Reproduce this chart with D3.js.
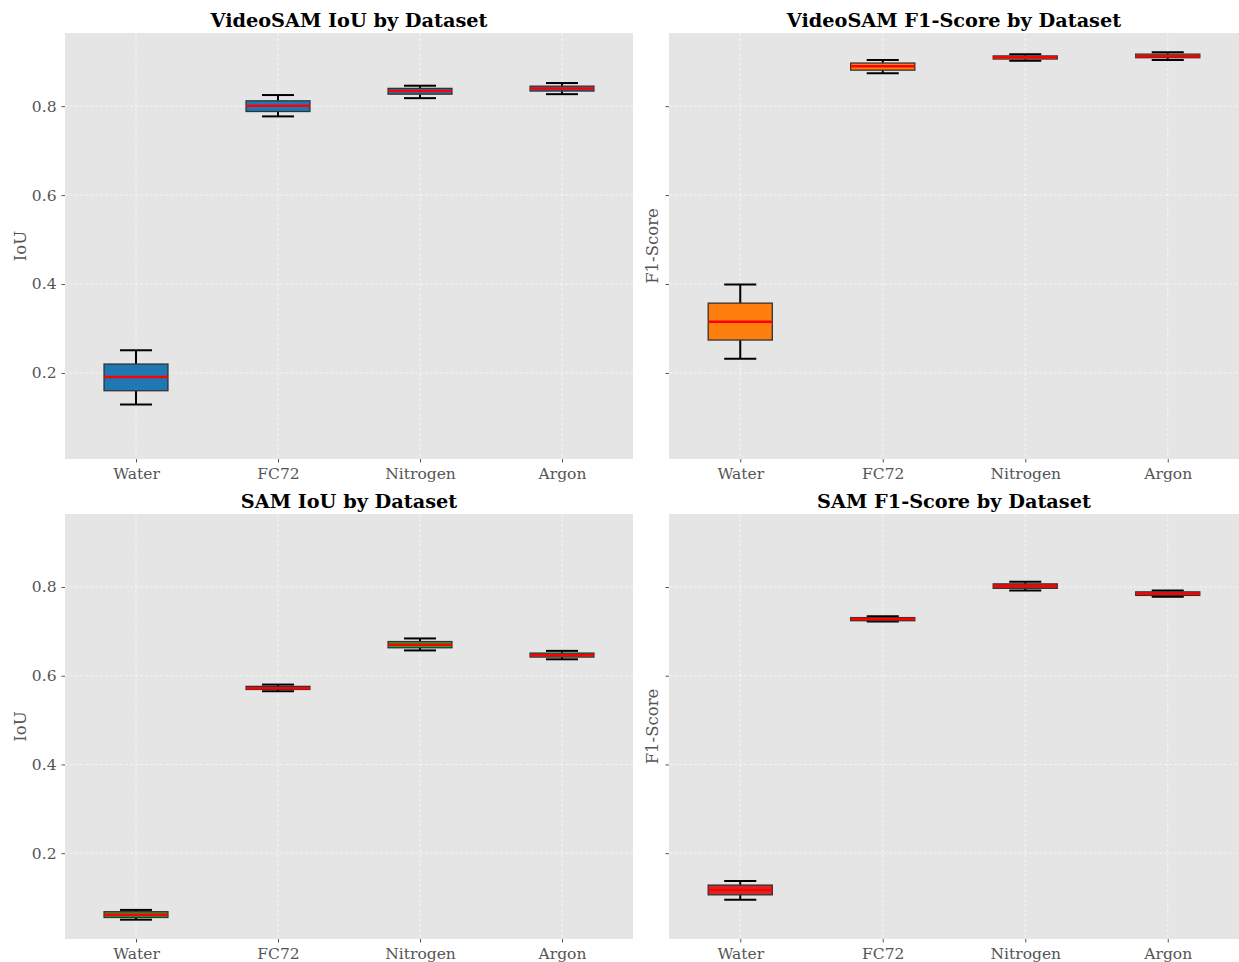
<!DOCTYPE html>
<html>
<head>
<meta charset="utf-8">
<script src="https://cdn.jsdelivr.net/npm/d3@7"></script>
<style>
  body { margin: 0; background: #fff; }
  svg text { font-family: "DejaVu Serif", serif; }
</style>
</head>
<body>
<svg id="chart" width="1239" height="962"></svg>
<script>
// datasets on the x axis
const datasets = ['Water', 'FC72', 'Nitrogen', 'Argon'];
const yTicks = [0.2, 0.4, 0.6, 0.8];

// five-number summaries: [whiskerLow, q1, median, q3, whiskerHigh]
const videoSamIoU = [
  [0.129, 0.160, 0.191, 0.220, 0.251],
  [0.777, 0.788, 0.801, 0.812, 0.825],
  [0.818, 0.827, 0.834, 0.840, 0.846],
  [0.827, 0.834, 0.840, 0.845, 0.852]
];
const videoSamF1 = [
  [0.232, 0.274, 0.315, 0.357, 0.399],
  [0.874, 0.881, 0.890, 0.897, 0.904],
  [0.902, 0.906, 0.910, 0.913, 0.917],
  [0.904, 0.909, 0.912, 0.917, 0.921]
];
const samIoU = [
  [0.050, 0.055, 0.061, 0.068, 0.072],
  [0.565, 0.569, 0.572, 0.576, 0.580],
  [0.657, 0.663, 0.670, 0.677, 0.684],
  [0.637, 0.642, 0.646, 0.651, 0.656]
];
const samF1 = [
  [0.095, 0.106, 0.117, 0.128, 0.137],
  [0.722, 0.724, 0.728, 0.731, 0.734],
  [0.792, 0.797, 0.802, 0.807, 0.812],
  [0.778, 0.781, 0.785, 0.789, 0.792]
];

const panels = [
  { title: 'VideoSAM IoU by Dataset', ylabel: 'IoU', data: videoSamIoU, color: '#1f77b4', x: 65, y: 33, w: 568, h: 426, showY: true },
  { title: 'VideoSAM F1-Score by Dataset', ylabel: 'F1-Score', data: videoSamF1, color: '#ff7f0e', x: 669, y: 33, w: 570, h: 426, showY: false },
  { title: 'SAM IoU by Dataset', ylabel: 'IoU', data: samIoU, color: '#2ca02c', x: 65, y: 514, w: 568, h: 425, showY: true },
  { title: 'SAM F1-Score by Dataset', ylabel: 'F1-Score', data: samF1, color: '#d62728', x: 669, y: 514, w: 570, h: 425, showY: false }
];

// shared y range, matplotlib style 5% margins
const all = [videoSamIoU, videoSamF1, samIoU, samF1].flat(2);
const yMin = d3.min(all), yMax = d3.max(all);
const pad = (yMax - yMin) * 0.05;

const svg = d3.select('#chart');

panels.forEach(p => {
  const g = svg.append('g').attr('transform', `translate(${p.x},${p.y})`);

  const x = d3.scalePoint().domain(datasets).range([0, p.w]).padding(0.5);
  const step = x.step();
  const y = d3.scaleLinear().domain([yMin - pad, yMax + pad]).range([p.h, 0]);

  g.append('rect').attr('width', p.w).attr('height', p.h).attr('fill', '#e5e5e5');

  // grid
  g.append('g').selectAll('line').data(yTicks).enter().append('line')
    .attr('x1', 0).attr('x2', p.w)
    .attr('y1', d => y(d)).attr('y2', d => y(d))
    .attr('stroke', '#fff').attr('stroke-opacity', 0.75)
    .attr('stroke-dasharray', '3,2').attr('stroke-width', 0.8);
  g.append('g').selectAll('line').data(datasets).enter().append('line')
    .attr('x1', d => x(d)).attr('x2', d => x(d))
    .attr('y1', 0).attr('y2', p.h)
    .attr('stroke', '#fff').attr('stroke-opacity', 0.75)
    .attr('stroke-dasharray', '3,2').attr('stroke-width', 0.8);

  // axes
  const xAxis = g.append('g')
    .attr('transform', `translate(0,${p.h})`)
    .call(d3.axisBottom(x).tickSize(3.5).tickPadding(5))
    .call(a => a.select('.domain').remove());
  xAxis.selectAll('line').attr('stroke', '#555');
  xAxis.selectAll('text').attr('fill', '#555').style('font-size', '15.5px');

  const yAxis = g.append('g')
    .call(d3.axisLeft(y).tickValues(yTicks).tickFormat(p.showY ? d3.format('.1f') : '').tickSize(3.5).tickPadding(5))
    .call(a => a.select('.domain').remove());
  yAxis.selectAll('line').attr('stroke', '#555');
  yAxis.selectAll('text').attr('fill', '#555').style('font-size', '15.5px');

  g.append('text')
    .attr('transform', `translate(${p.showY ? -39 : -11},${p.h / 2}) rotate(-90)`)
    .attr('text-anchor', 'middle')
    .attr('fill', '#555')
    .style('font-size', '16.5px')
    .text(p.ylabel);

  g.append('text')
    .attr('x', p.w / 2).attr('y', -6)
    .attr('text-anchor', 'middle')
    .attr('fill', '#000')
    .style('font-size', '19.3px').style('font-weight', 'bold')
    .text(p.title);

  // boxes
  const boxW = step * 0.45;
  const capW = boxW / 2;
  const boxes = g.append('g').selectAll('g').data(p.data).enter().append('g')
    .attr('transform', (d, i) => `translate(${x(datasets[i])},0)`);

  boxes.append('line')
    .attr('x1', 0).attr('x2', 0)
    .attr('y1', d => y(d[0])).attr('y2', d => y(d[1]))
    .attr('stroke', '#000').attr('stroke-width', 2);
  boxes.append('line')
    .attr('x1', 0).attr('x2', 0)
    .attr('y1', d => y(d[3])).attr('y2', d => y(d[4]))
    .attr('stroke', '#000').attr('stroke-width', 2);
  boxes.append('line')
    .attr('x1', -capW / 2).attr('x2', capW / 2)
    .attr('y1', d => y(d[0])).attr('y2', d => y(d[0]))
    .attr('stroke', '#000').attr('stroke-width', 2);
  boxes.append('line')
    .attr('x1', -capW / 2).attr('x2', capW / 2)
    .attr('y1', d => y(d[4])).attr('y2', d => y(d[4]))
    .attr('stroke', '#000').attr('stroke-width', 2);
  boxes.append('rect')
    .attr('x', -boxW / 2).attr('width', boxW)
    .attr('y', d => y(d[3]))
    .attr('height', d => y(d[1]) - y(d[3]))
    .attr('fill', p.color)
    .attr('stroke', '#333').attr('stroke-width', 1.3);
  boxes.append('line')
    .attr('x1', -boxW / 2).attr('x2', boxW / 2)
    .attr('y1', d => y(d[2])).attr('y2', d => y(d[2]))
    .attr('stroke', '#ff0000').attr('stroke-width', 2.5);
});
</script>
</body>
</html>
